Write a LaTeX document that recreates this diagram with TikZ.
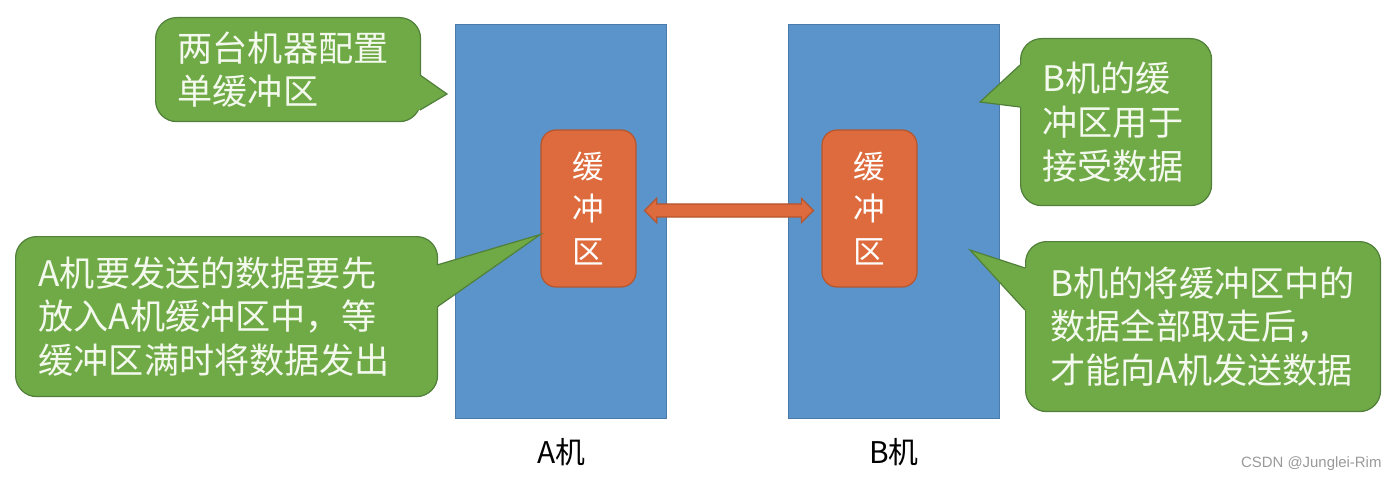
\documentclass[tikz,border=0pt]{standalone}
\usepackage{fontspec}
\setmainfont{Noto Sans CJK SC}
\newfontfamily\markfont{Liberation Sans}
\usetikzlibrary{positioning,shapes.arrows,calc}

\definecolor{hostblue}{HTML}{5B94CB}
\definecolor{hostedge}{HTML}{4A7BAA}
\definecolor{bufred}{HTML}{DD6B3D}
\definecolor{bufedge}{HTML}{B5562F}
\definecolor{notegreen}{HTML}{70AA47}
\definecolor{noteedge}{HTML}{51803A}
\definecolor{notetext}{HTML}{F4F9EE}

\tikzset{
	host/.style={draw=hostedge, fill=hostblue, minimum width=4.22cm, minimum height=7.88cm, anchor=north west},
	buf/.style={draw=bufedge, fill=bufred, rounded corners=0.3cm, minimum width=1.9cm, minimum height=3.14cm, text=white, font=\fontsize{18}{24}\selectfont, align=center},
	note/.style={draw=noteedge, fill=notegreen, rounded corners=0.42cm, anchor=north west},
	notetxt/.style={text=notetext, font=\fontsize{20}{25}\selectfont, align=left, inner sep=0pt, anchor=west},
	hostname/.style={font=\fontsize{17}{20}\selectfont, inner sep=0pt}
}

\begin{document}
\begin{tikzpicture}[x=0.02cm, y=-0.02cm, line width=0.7pt]
		\useasboundingbox (0,0) rectangle (1399,483);

		\node[host] (hostA) at (455,24) {};
		\node[host] (hostB) at (788,24) {};

		\node[buf] (bufA) at (588.5,208.5) {缓\\冲\\区};
		\node[buf] (bufB) at (869.5,208.5) {缓\\冲\\区};

		\node[double arrow, draw=bufedge, fill=bufred, inner xsep=0pt, inner ysep=0.12cm, minimum height=3.38cm, double arrow head extend=0.11cm] (link) at ($(bufA.east)!0.5!(bufB.west)+(0,2)$) {};

		\node[hostname, below=0.38cm of hostA] (nameA) {A机};
		\node[hostname, below=0.38cm of hostB] (nameB) {B机};

		% callouts
		\node[note, minimum width=5.3cm, minimum height=2.08cm] (bubTop) at (155,17) {};
		\node[note, minimum width=3.82cm, minimum height=3.34cm] (bubBtop) at (1020,38) {};
		\node[note, minimum width=7.1cm, minimum height=3.4cm] (bubBbot) at (1025,241) {};
		\node[note, minimum width=8.44cm, minimum height=3.2cm] (bubAbot) at (15,236) {};

		\coordinate (tipTop) at (447,94);
		\coordinate (tipBtop) at (980,102);
		\coordinate (tipBbot) at (970,250);
		\coordinate (tipAbot) at ($(bufA.west)+(0,26)$);

		\fill[notegreen] (416,75) -- (420,75) -- (tipTop) -- (420,110) -- (416,110) -- cycle;
		\draw[noteedge] (420,75) -- (tipTop) -- (420,110);
		\fill[notegreen] (1024,65) -- (1020,65) -- (tipBtop) -- (1020,107) -- (1024,107) -- cycle;
		\draw[noteedge] (1020,65) -- (tipBtop) -- (1020,107);
		\fill[notegreen] (1029,268) -- (1025,268) -- (tipBbot) -- (1025,310) -- (1029,310) -- cycle;
		\draw[noteedge] (1025,268) -- (tipBbot) -- (1025,310);
		\fill[notegreen] (433,265) -- (437,265) -- (tipAbot) -- (437,307) -- (433,307) -- cycle;
		\draw[noteedge] (437,265) -- (tipAbot) -- (437,307);

		\node[notetxt, right=0.44cm of bubTop.west] (txtTop) {两台机器配置\\单缓冲区};
		\node[notetxt, right=0.44cm of bubBtop.west] (txtBtop) {B机的缓\\冲区用于\\接受数据};
		\node[notetxt, right=0.5cm of bubBbot.west] (txtBbot) {B机的将缓冲区中的\\数据全部取走后，\\才能向A机发送数据};
		\node[notetxt, right=0.46cm of bubAbot.west] (txtAbot) {A机要发送的数据要先\\放入A机缓冲区中，等\\缓冲区满时将数据发出};

		\node[font=\markfont\fontsize{8.5}{10}\selectfont, text=gray!80, anchor=east] (mark) at (1388,464) {CSDN @Junglei-Rim};
	\end{tikzpicture}
\end{document}
